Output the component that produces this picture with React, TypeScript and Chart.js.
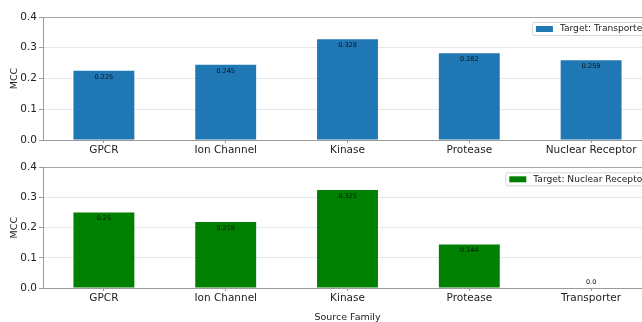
import React, { useEffect, useRef } from "react";
import { Chart, registerables } from "chart.js";

Chart.register(...registerables);

// Source families for each panel and the MCC reached on each target family
const transporterSources = ["GPCR", "Ion Channel", "Kinase", "Protease", "Nuclear Receptor"];
const transporterMcc = [0.225, 0.245, 0.328, 0.282, 0.259];

const nuclearSources = ["GPCR", "Ion Channel", "Kinase", "Protease", "Transporter"];
const nuclearMcc = [0.25, 0.219, 0.325, 0.144, 0.0];

const mccTicks = [0, 0.1, 0.2, 0.3, 0.4];

const FONT = '"DejaVu Sans", sans-serif';

const fmt = (v: number) => (Number.isInteger(v) ? v.toFixed(1) : String(v));

function makePlugins(legendText: string, color: string) {
  return [
    {
      id: "valueLabels",
      afterDatasetsDraw(chart: any) {
        const ctx = chart.ctx;
        const y = chart.scales.y;
        const meta = chart.getDatasetMeta(0);
        const values = chart.data.datasets[0].data as number[];
        ctx.save();
        ctx.font = `6.5px ${FONT}`;
        ctx.fillStyle = "#111";
        ctx.textAlign = "center";
        ctx.textBaseline = "middle";
        meta.data.forEach((bar: any, i: number) => {
          const v = values[i];
          const py = y.getPixelForValue(v > 0.03 ? v - 0.02 : v + 0.02);
          ctx.fillText(fmt(v), bar.x, py);
        });
        ctx.restore();
      },
    },
    {
      id: "boxLegend",
      afterDraw(chart: any) {
        const ctx = chart.ctx;
        const area = chart.chartArea;
        ctx.save();
        ctx.font = `9.1px ${FONT}`;
        const tw = ctx.measureText(legendText).width;
        const pad = 4, patchW = 17, gap = 7, h = 13;
        const w = pad + patchW + gap + tw + pad;
        const right = area.right - 2;
        const left = right - w;
        const top = area.top + 5;
        ctx.fillStyle = "rgba(255,255,255,0.9)";
        ctx.strokeStyle = "#d6d6d6";
        ctx.lineWidth = 1;
        ctx.beginPath();
        ctx.roundRect(left + 0.5, top + 0.5, w, h, 2);
        ctx.fill();
        ctx.stroke();
        ctx.fillStyle = color;
        ctx.fillRect(left + pad, top + 4, patchW, 6);
        ctx.fillStyle = "#222";
        ctx.textAlign = "left";
        ctx.textBaseline = "middle";
        ctx.fillText(legendText, left + pad + patchW + gap, top + h / 2 + 0.5);
        ctx.restore();
      },
    },
  ];
}

function makeConfig(
  labels: string[],
  values: number[],
  color: string,
  legendText: string,
  opts: { padTop: number; xHeight: number; xTitle?: string }
): any {
  return {
    type: "bar",
    data: {
      labels,
      datasets: [
        {
          label: legendText,
          data: values,
          backgroundColor: color,
          barPercentage: 0.5,
          categoryPercentage: 1,
        },
      ],
    },
    options: {
      animation: false,
      responsive: false,
      devicePixelRatio: 1,
      layout: { padding: { top: opts.padTop, right: 8, bottom: 0, left: 0 } },
      plugins: { legend: { display: false }, tooltip: { enabled: false } },
      scales: {
        x: {
          offset: true,
          grid: {
            display: true,
            offset: false,
            drawOnChartArea: false,
            color: "rgba(0,0,0,0)",
            tickColor: "#9a9a9a",
            tickLength: 3,
          },
          border: { display: true, color: "#9a9a9a", width: 1 },
          ticks: { color: "#222", padding: 1, maxRotation: 0, autoSkip: false, font: { family: FONT, size: 10.5 } },
          title: {
            display: !!opts.xTitle,
            text: opts.xTitle || "",
            color: "#222",
            font: { family: FONT, size: 9.5, lineHeight: 1 },
            padding: { top: 0, bottom: 0 },
          },
          afterFit(scale: any) {
            scale.height = opts.xHeight;
          },
        },
        y: {
          min: 0,
          max: 0.4,
          afterBuildTicks(scale: any) {
            scale.ticks = mccTicks.map((v) => ({ value: v }));
          },
          grid: {
            color: (c: any) => (c.tick && c.tick.value >= 0.4 ? "#a6a6a6" : "#e3e8ec"),
            tickColor: "#9a9a9a",
            tickLength: 4,
          },
          border: { display: true, color: "#9a9a9a", width: 1 },
          ticks: {
            color: "#222",
            padding: 2,
            font: { family: FONT, size: 10.5 },
            callback: (v: any) => Number(v).toFixed(1),
          },
          title: {
            display: true,
            text: "MCC",
            color: "#222",
            font: { family: FONT, size: 9.5 },
            padding: { top: 9, bottom: 0 },
          },
          afterFit(scale: any) {
            scale.width = 43;
          },
        },
      },
    },
    plugins: makePlugins(legendText, color),
  };
}

export default function App() {
  const topRef = useRef<HTMLCanvasElement | null>(null);
  const bottomRef = useRef<HTMLCanvasElement | null>(null);

  useEffect(() => {
    const top = new Chart(
      topRef.current as HTMLCanvasElement,
      makeConfig(transporterSources, transporterMcc, "#1f77b4", "Target: Transporter", {
        padTop: 17,
        xHeight: 19,
      })
    );
    const bottom = new Chart(
      bottomRef.current as HTMLCanvasElement,
      makeConfig(nuclearSources, nuclearMcc, "#008000", "Target: Nuclear Receptor", {
        padTop: 5,
        xHeight: 34,
        xTitle: "Source Family",
      })
    );
    return () => {
      top.destroy();
      bottom.destroy();
    };
  }, []);

  return (
    <div
      style={{
        position: "fixed",
        left: 0,
        top: 0,
        width: 642,
        height: 322,
        overflow: "hidden",
        background: "#fff",
      }}
    >
      <canvas
        ref={topRef}
        width={660}
        height={159}
        style={{ position: "absolute", left: 0, top: 0, width: 660, height: 159 }}
      />
      <canvas
        ref={bottomRef}
        width={660}
        height={163}
        style={{ position: "absolute", left: 0, top: 159, width: 660, height: 163 }}
      />
    </div>
  );
}
